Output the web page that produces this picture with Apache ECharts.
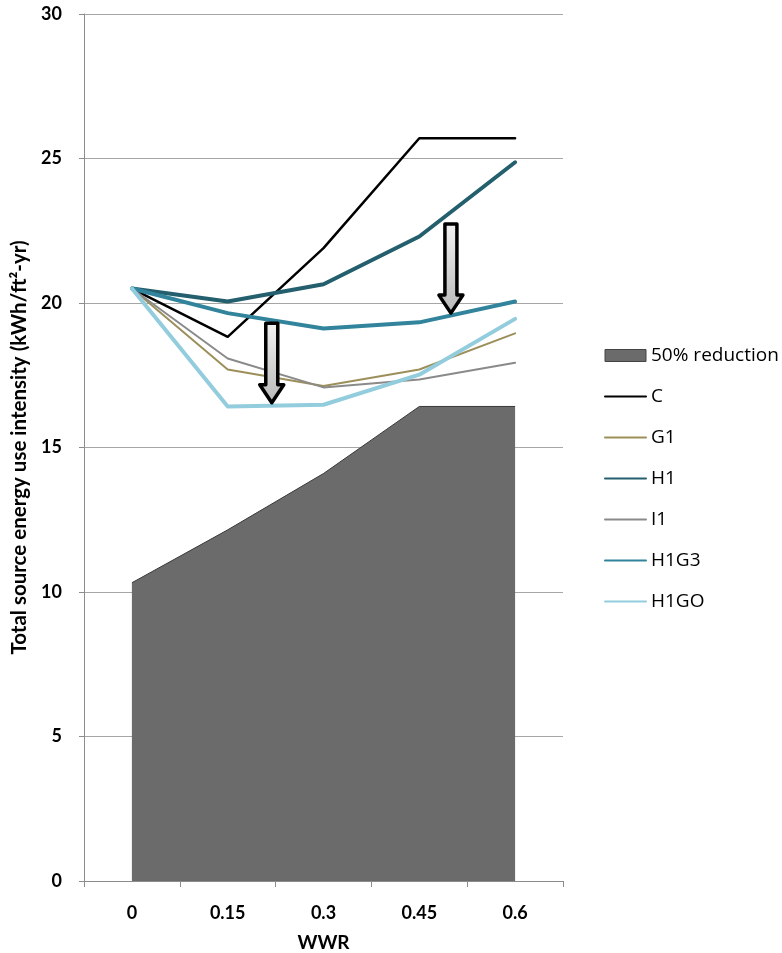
<!DOCTYPE html>
<html>
<head>
<meta charset="utf-8">
<script src="https://cdn.jsdelivr.net/npm/echarts@6/dist/echarts.min.js"></script>
<style>html,body{margin:0;padding:0;background:#fff}#c{width:782px;height:953px}</style>
</head>
<body>
<div id="c"></div>
<script>
const categories = ['0', '0.15', '0.3', '0.45', '0.6'];
const yTicks = [0, 5, 10, 15, 20, 25, 30];
const reduction50 = [10.32, 12.15, 14.1, 16.42, 16.42];
const seriesC = [20.5, 18.83, 21.9, 25.7, 25.7];
const seriesG1 = [20.5, 17.7, 17.13, 17.7, 18.95];
const seriesH1 = [20.5, 20.05, 20.65, 22.3, 24.87];
const seriesI1 = [20.5, 18.08, 17.08, 17.35, 17.93];
const seriesH1G3 = [20.5, 19.65, 19.12, 19.33, 20.05];
const seriesH1GO = [20.5, 16.42, 16.48, 17.52, 19.45];
// annotation arrows: category position (fractional index), start value, tip value
const arrows = [
  { at: 1.46, from: 19.3, to: 16.55 },
  { at: 3.33, from: 22.73, to: 19.65 }
];

const FONT = 'Lato, "Open Sans", sans-serif';
const LFONT = '"Open Sans", Lato, sans-serif';
const chart = echarts.init(document.getElementById('c'), null, { renderer: 'canvas' });

function lineSeries(name, data, color, width) {
  return {
    name, type: 'line', data, symbol: 'none', showSymbol: false,
    lineStyle: { color, width, join: 'round', cap: 'round' },
    itemStyle: { color }, z: 3, animation: false
  };
}
const hideSym = { opacity: 0 };

chart.setOption({
  animation: false,
  grid: { left: 84, right: 219, top: 14, bottom: 72, outerBoundsMode: 'none', containLabel: false },
  legend: {
    orient: 'vertical', left: 599, top: 341, itemWidth: 41, itemHeight: 12, itemGap: 22,
    textStyle: { fontFamily: LFONT, fontSize: 19, color: '#000' },
    data: [
      { name: '50% reduction', icon: 'rect', itemStyle: { borderColor: '#444', borderWidth: 1 } },
      { name: 'C', itemStyle: hideSym },
      { name: 'G1', itemStyle: hideSym },
      { name: 'H1', itemStyle: hideSym },
      { name: 'I1', itemStyle: hideSym },
      { name: 'H1G3', itemStyle: hideSym },
      { name: 'H1GO', itemStyle: hideSym }
    ]
  },
  xAxis: {
    type: 'category', data: categories, boundaryGap: true,
    name: 'WWR', nameLocation: 'middle', nameGap: 52,
    nameTextStyle: { fontFamily: FONT, fontWeight: 'bold', fontSize: 19, color: '#000' },
    axisLine: { lineStyle: { color: '#8c8c8c', width: 1 } },
    axisTick: { show: true, length: 6, alignWithLabel: false, lineStyle: { color: '#8c8c8c' } },
    axisLabel: { margin: 23, fontFamily: FONT, fontWeight: 'bold', fontSize: 18, color: '#000' },
    splitLine: { show: false }
  },
  yAxis: {
    type: 'value', min: yTicks[0], max: yTicks[yTicks.length - 1], interval: 5,
    name: 'Total source energy use intensity (kWh/ft\u00B2-yr)', nameLocation: 'middle', nameGap: 49,
    nameTextStyle: { fontFamily: FONT, fontWeight: 'bold', fontSize: 20.5, color: '#000' },
    axisLine: { show: true, lineStyle: { color: '#8c8c8c', width: 1 } },
    axisTick: { show: true, length: 5, inside: false, lineStyle: { color: '#8c8c8c' } },
    axisLabel: { margin: 22, fontFamily: FONT, fontWeight: 'bold', fontSize: 18, color: '#000' },
    splitLine: { show: true, lineStyle: { color: '#a6a6a6', width: 1 } }
  },
  series: [
    {
      name: '50% reduction', type: 'line', data: reduction50, symbol: 'none',
      lineStyle: { color: '#3a3a3a', width: 1 },
      itemStyle: { color: '#6b6b6b', borderColor: '#3a3a3a' },
      areaStyle: { color: '#6b6b6b', opacity: 1 }, z: 1
    },
    lineSeries('C', seriesC, '#000000', 2.5),
    lineSeries('G1', seriesG1, '#9c8f5a', 2),
    lineSeries('H1', seriesH1, '#245f6e', 4),
    lineSeries('I1', seriesI1, '#8a8a8a', 2),
    lineSeries('H1G3', seriesH1G3, '#31849b', 4),
    lineSeries('H1GO', seriesH1GO, '#93cddd', 4)
  ]
});

function px(idx, val) {
  const i0 = Math.floor(idx), i1 = Math.min(i0 + 1, categories.length - 1);
  const p0 = chart.convertToPixel({ gridIndex: 0 }, [i0, val]);
  const p1 = chart.convertToPixel({ gridIndex: 0 }, [i1, val]);
  const f = idx - i0;
  return [p0[0] + (p1[0] - p0[0]) * f, p0[1]];
}

const graphics = [];
arrows.forEach(a => {
  const top = px(a.at, a.from), tip = px(a.at, a.to);
  const cx = top[0], y0 = top[1], y1 = tip[1];
  const sw = 6, hw = 12, hh = 18;
  const yh = y1 - hh;
  graphics.push({
    type: 'polygon', z: 10,
    shape: { points: [[cx - sw, y0], [cx + sw, y0], [cx + sw, yh], [cx + hw, yh], [cx, y1], [cx - hw, yh], [cx - sw, yh]] },
    style: {
      fill: new echarts.graphic.LinearGradient(0, 0, 0, 1, [
        { offset: 0, color: '#f2f2f2' }, { offset: 1, color: '#b8b8b8' }
      ]),
      stroke: '#000', lineWidth: 3.5, lineJoin: 'round'
    }
  });
});
chart.setOption({ graphic: graphics });
</script>
</body>
</html>
